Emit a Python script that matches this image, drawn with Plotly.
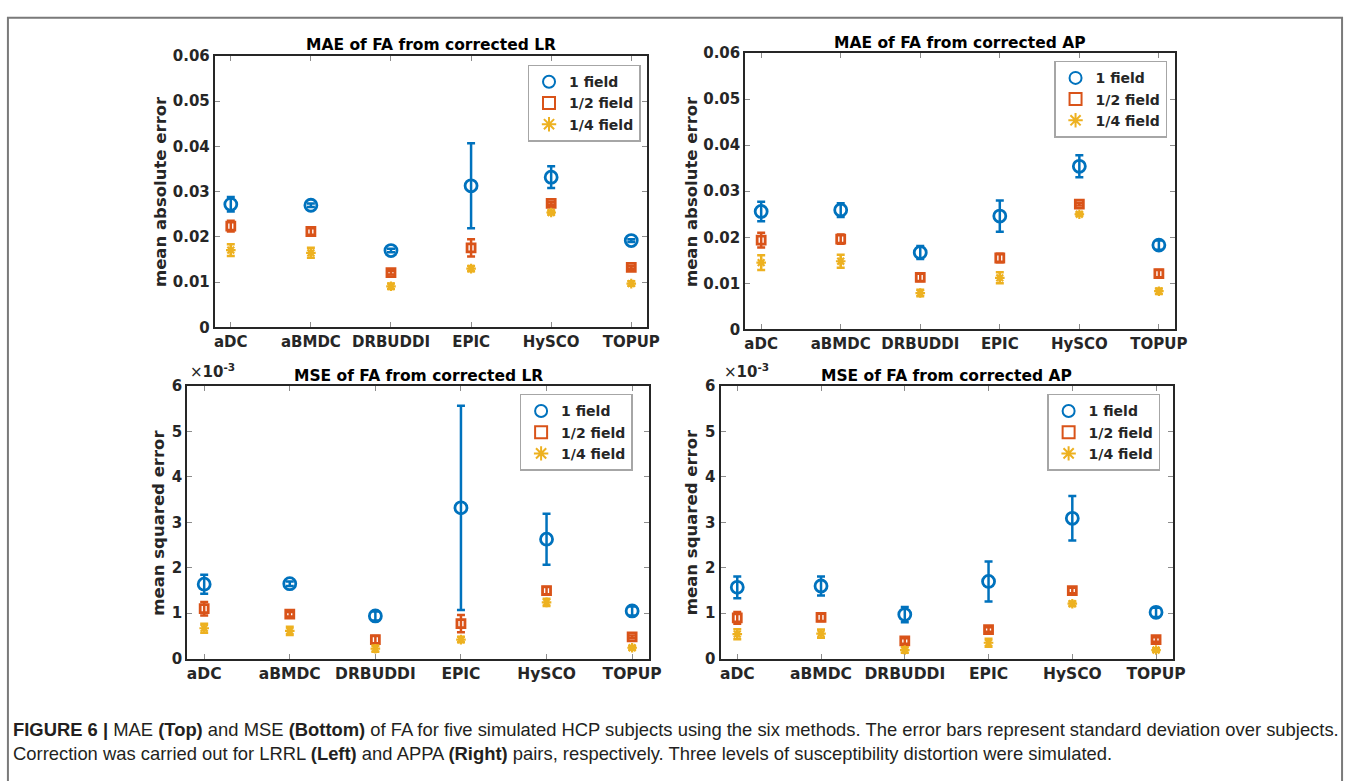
import plotly.graph_objects as go

W, H = 1360, 781

methods = ["aDC", "aBMDC", "DRBUDDI", "EPIC", "HySCO", "TOPUP"]
xpos = [1, 2, 3, 4, 5, 6]
series_names = ["1 field", "1/2 field", "1/4 field"]

# MAE, corrected LR
mae_lr_1 = [0.0272, 0.0270, 0.0170, 0.0313, 0.0332, 0.0192]
mae_lr_1_sd = [0.0016, 0.0004, 0.0004, 0.0094, 0.0024, 0.0003]
mae_lr_2 = [0.0224, 0.0212, 0.0121, 0.0176, 0.0274, 0.0133]
mae_lr_2_sd = [0.0012, 0.0007, 0.0004, 0.0019, 0.0003, 0.0003]
mae_lr_4 = [0.0171, 0.0165, 0.0091, 0.0130, 0.0254, 0.0097]
mae_lr_4_sd = [0.0013, 0.0011, 0.0006, 0.0006, 0.0004, 0.0005]

# MAE, corrected AP
mae_ap_1 = [0.0256, 0.0259, 0.0167, 0.0246, 0.0354, 0.0183]
mae_ap_1_sd = [0.0021, 0.0015, 0.0014, 0.0034, 0.0024, 0.0010]
mae_ap_2 = [0.0194, 0.0196, 0.0113, 0.0155, 0.0272, 0.0121]
mae_ap_2_sd = [0.0016, 0.0010, 0.0008, 0.0009, 0.0003, 0.0008]
mae_ap_4 = [0.0145, 0.0148, 0.0079, 0.0112, 0.0250, 0.0083]
mae_ap_4_sd = [0.0016, 0.0014, 0.0007, 0.0012, 0.0003, 0.0006]

# MSE, corrected LR
mse_lr_1 = [1.64e-3, 1.65e-3, 0.94e-3, 3.32e-3, 2.63e-3, 1.05e-3]
mse_lr_1_sd = [0.21e-3, 0.05e-3, 0.10e-3, 2.25e-3, 0.56e-3, 0.10e-3]
mse_lr_2 = [1.10e-3, 0.98e-3, 0.42e-3, 0.77e-3, 1.50e-3, 0.48e-3]
mse_lr_2_sd = [0.15e-3, 0.05e-3, 0.08e-3, 0.19e-3, 0.08e-3, 0.03e-3]
mse_lr_4 = [0.67e-3, 0.61e-3, 0.22e-3, 0.42e-3, 1.24e-3, 0.24e-3]
mse_lr_4_sd = [0.10e-3, 0.09e-3, 0.07e-3, 0.06e-3, 0.08e-3, 0.04e-3]

# MSE, corrected AP
mse_ap_1 = [1.57e-3, 1.60e-3, 0.97e-3, 1.70e-3, 3.09e-3, 1.02e-3]
mse_ap_1_sd = [0.24e-3, 0.21e-3, 0.17e-3, 0.44e-3, 0.49e-3, 0.10e-3]
mse_ap_2 = [0.90e-3, 0.91e-3, 0.39e-3, 0.64e-3, 1.50e-3, 0.42e-3]
mse_ap_2_sd = [0.13e-3, 0.08e-3, 0.06e-3, 0.05e-3, 0.06e-3, 0.05e-3]
mse_ap_4 = [0.54e-3, 0.55e-3, 0.19e-3, 0.35e-3, 1.21e-3, 0.19e-3]
mse_ap_4_sd = [0.11e-3, 0.09e-3, 0.06e-3, 0.09e-3, 0.05e-3, 0.04e-3]

mae_ticks = [0, 0.01, 0.02, 0.03, 0.04, 0.05, 0.06]
mae_ticktext = ["0", "0.01", "0.02", "0.03", "0.04", "0.05", "0.06"]
mse_ticks = [0, 0.001, 0.002, 0.003, 0.004, 0.005, 0.006]
mse_ticktext = ["0", "1", "2", "3", "4", "5", "6"]

titles = ["MAE of FA from corrected LR", "MAE of FA from corrected AP",
          "MSE of FA from corrected LR", "MSE of FA from corrected AP"]
ylabels = ["mean absolute error", "mean absolute error",
           "mean squared error", "mean squared error"]

panels_data = [
    [(mae_lr_1, mae_lr_1_sd), (mae_lr_2, mae_lr_2_sd), (mae_lr_4, mae_lr_4_sd)],
    [(mae_ap_1, mae_ap_1_sd), (mae_ap_2, mae_ap_2_sd), (mae_ap_4, mae_ap_4_sd)],
    [(mse_lr_1, mse_lr_1_sd), (mse_lr_2, mse_lr_2_sd), (mse_lr_4, mse_lr_4_sd)],
    [(mse_ap_1, mse_ap_1_sd), (mse_ap_2, mse_ap_2_sd), (mse_ap_4, mse_ap_4_sd)],
]

# ---- layout (pixel boxes) ----
boxes = [(216, 653, 48, 326), (752, 1186, 45, 328), (188, 655, 386, 665), (727, 1184, 386, 665)]
legend_pos = [(532, 57), (1064, 53), (524, 394), (1057, 394)]
title_y = [37, 35, 376, 376]
ylab_x = [161, 697, 159, 698]

colors = ["#0072BD", "#D95319", "#EDB120"]
symbols = ["circle-open", "square-open", "asterisk-open"]
msizes = [12, 8, 8]
mlw = [2.8, 2.8, 2.2]

TXT = "#262626"
FONT = "DejaVu Sans"

def px(x):
    return x / W

def py(y):
    return 1 - y / H

fig = go.Figure()
annotations = []

for i in range(4):
    sfx = "" if i == 0 else str(i + 1)
    lg = "legend" if i == 0 else "legend" + str(i + 1)
    for s in range(3):
        vals, sd = panels_data[i][s]
        fig.add_trace(go.Scatter(
            x=xpos, y=vals, mode="markers", name=series_names[s],
            xaxis="x" + sfx, yaxis="y" + sfx, legend=lg,
            marker=dict(symbol=symbols[s], size=msizes[s], color=colors[s],
                        line=dict(width=mlw[s], color=colors[s])),
            error_y=dict(type="data", array=sd, visible=True, thickness=2.5, width=4, color=colors[s]),
        ))
    x0, x1, y0, y1 = boxes[i]
    is_mae = i < 2
    xfs = 15 if is_mae else 15.5
    xa = dict(domain=[px(x0), px(x1)], range=[0.8, 6.2], tickvals=xpos, ticktext=methods,
              anchor="y" + sfx, showline=True, linecolor=TXT, linewidth=2, mirror="ticks",
              ticks="inside", ticklen=5, tickwidth=1, tickcolor="#8c8c8c",
              showgrid=False, zeroline=False,
              tickfont=dict(family=FONT, size=xfs, color=TXT, weight="bold"))
    ya = dict(domain=[py(y1), py(y0)], range=[0, 0.06] if is_mae else [0, 0.006],
              tickvals=mae_ticks if is_mae else mse_ticks,
              ticktext=mae_ticktext if is_mae else mse_ticktext,
              anchor="x" + sfx, showline=True, linecolor=TXT, linewidth=2, mirror="ticks",
              ticks="inside", ticklen=5, tickwidth=1, tickcolor="#8c8c8c",
              showgrid=False, zeroline=False,
              tickfont=dict(family=FONT, size=15, color=TXT, weight="bold"))
    fig.layout["xaxis" + sfx] = xa
    fig.layout["yaxis" + sfx] = ya
    lx, ly = legend_pos[i]
    fig.layout[lg] = dict(x=px(lx), y=py(ly), xanchor="left", yanchor="top",
                          bgcolor="white", bordercolor="#a6a6a6", borderwidth=1.5,
                          font=dict(family=FONT, size=14, color=TXT, weight="bold"),
                          tracegroupgap=0, itemsizing="constant")
    annotations.append(dict(text=titles[i], x=(px(x0) + px(x1)) / 2, y=py(title_y[i]),
                            xref="paper", yref="paper", xanchor="center", yanchor="middle",
                            showarrow=False, font=dict(family=FONT, size=15.5, color="#000", weight="bold")))
    annotations.append(dict(text=ylabels[i], x=px(ylab_x[i]), y=py((y0 + y1) / 2),
                            xref="paper", yref="paper", xanchor="center", yanchor="middle",
                            textangle=-90, showarrow=False,
                            font=dict(family=FONT, size=16.5, color=TXT, weight="bold")))
    if not is_mae:
        annotations.append(dict(text="×<b>10<sup>-3</sup></b>", x=px(x0 + 1), y=py(y0 - 3),
                                xref="paper", yref="paper", xanchor="left", yanchor="bottom",
                                showarrow=False, font=dict(family=FONT, size=15, color=TXT)))

cap_font = dict(family="Liberation Sans, Arial", size=18.4, color="#231f20")
annotations.append(dict(
    text="<b>FIGURE 6 |</b> MAE <b>(Top)</b> and MSE <b>(Bottom)</b> of FA for five simulated HCP subjects using the six methods. The error bars represent standard deviation over subjects.",
    x=px(10), y=py(737), xref="paper", yref="paper", xanchor="left", yanchor="middle",
    showarrow=False, font=cap_font))
annotations.append(dict(
    text="Correction was carried out for LRRL <b>(Left)</b> and APPA <b>(Right)</b> pairs, respectively. Three levels of susceptibility distortion were simulated.",
    x=px(10), y=py(762), xref="paper", yref="paper", xanchor="left", yanchor="middle",
    showarrow=False, font=cap_font))

fig.update_layout(
    width=W, height=H, margin=dict(l=0, r=0, t=0, b=0),
    paper_bgcolor="white", plot_bgcolor="white",
    annotations=annotations,
    shapes=[dict(type="rect", xref="paper", yref="paper", x0=px(7), x1=px(1355), y0=py(800), y1=py(9),
                 line=dict(color="#7a7a7a", width=2), fillcolor="rgba(0,0,0,0)", layer="below")],
)

fig.write_html("out.html")
